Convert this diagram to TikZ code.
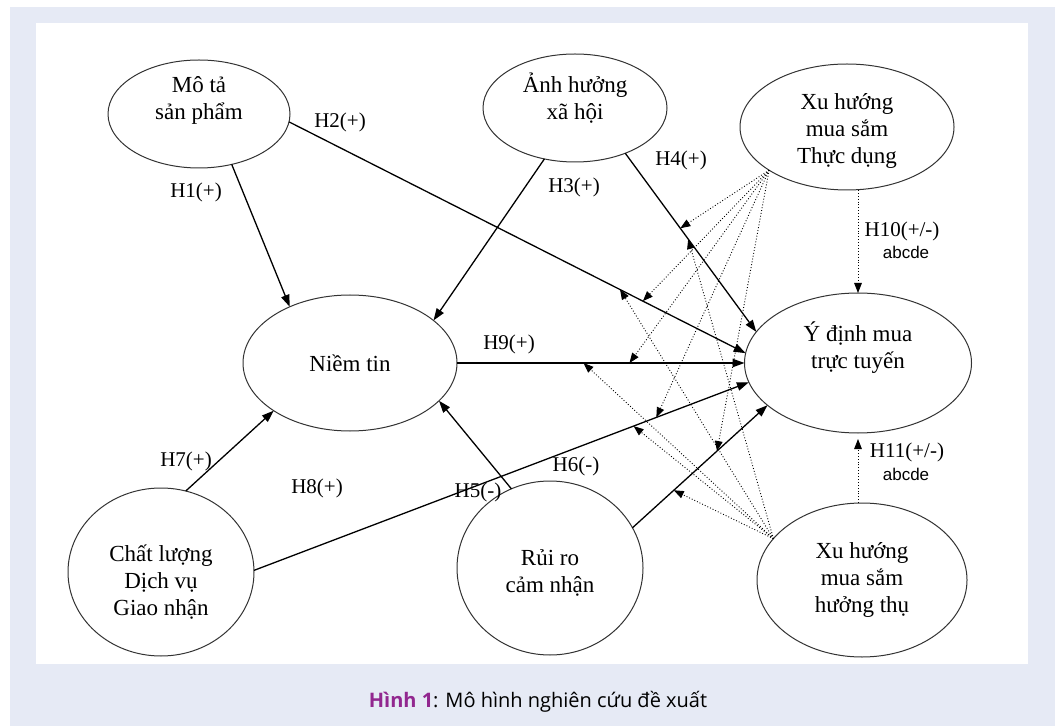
\documentclass[tikz,border=0pt]{standalone}
\usepackage{fontspec}
\setmainfont{Liberation Serif}
\newfontfamily\capfont{Open Sans}
\newfontfamily\abcfont{Liberation Sans}
\usetikzlibrary{shapes.geometric,arrows.meta}
\definecolor{panelbg}{RGB}{230,234,245}
\definecolor{figpurple}{RGB}{146,39,143}

\begin{document}
\begin{tikzpicture}[x=0.5pt,y=-0.5pt,
  oval/.style={draw=black!80,line width=0.5pt,ellipse,inner sep=0pt,outer sep=0pt},
  txt/.style={align=center,font=\fontsize{11.5}{13.5}\selectfont},
  hyp/.style={line width=0.65pt,-{Triangle[length=6pt,width=4.2pt]}},
  mod/.style={densely dotted,line width=0.45pt,-{Triangle[length=5pt,width=3.8pt]}},
  lbl/.style={font=\fontsize{10.5}{12}\selectfont},
  sublbl/.style={font=\abcfont\fontsize{8.5}{10}\selectfont}]

% Panel
\fill[white] (0,0) rectangle (1058,726);
\fill[panelbg] (10,7) rectangle (1055,726);
\fill[white] (36,23) rectangle (1028,664);
\useasboundingbox (0,0) rectangle (1058,726);

% Constructs
\node[oval,minimum width=91pt,minimum height=54pt] (mota) at (199,114) {};
\node[txt] (mota-t) at ([yshift=7pt]mota.center) {Mô tả\\sản phẩm};
\node[oval,minimum width=92pt,minimum height=54pt] (xahoi) at (575,108) {};
\node[txt] (xahoi-t) at ([yshift=5pt]xahoi.center) {Ảnh hưởng\\xã hội};
\node[oval,minimum width=107pt,minimum height=63pt] (thucdung) at (847,127) {};
\node[txt] (thucdung-t) at ([yshift=-2pt]thucdung.center) {Xu hướng\\mua sắm\\Thực dụng};
\node[oval,minimum width=107pt,minimum height=68pt] (niemtin) at (350,363) {};
\node[txt] (niemtin-t) at (niemtin.center) {Niềm tin};
\node[oval,minimum width=113.5pt,minimum height=70pt] (ydinh) at (858,363) {};
\node[txt] (ydinh-t) at ([yshift=7.5pt]ydinh.center) {Ý định mua\\trực tuyến};
\node[oval,minimum width=93pt,minimum height=84pt] (chatluong) at (161,572) {};
\node[txt] (chatluong-t) at ([yshift=-5pt]chatluong.center) {Chất lượng\\Dịch vụ\\Giao nhận};
\node[oval,minimum width=93pt,minimum height=87pt] (ruiro) at (550,568) {};
\node[txt] (ruiro-t) at ([yshift=-2.5pt]ruiro.center) {Rủi ro\\cảm nhận};
\node[oval,minimum width=105pt,minimum height=77pt] (huongthu) at (862,580) {};
\node[txt] (huongthu-t) at (huongthu.center) {Xu hướng\\mua sắm\\hưởng thụ};

% Hypotheses
\draw[hyp] (mota.-57) -- (niemtin.137);
\draw[hyp] (mota.-5) -- coordinate[pos=0.725] (h2h) coordinate[pos=0.775] (h2t) (ydinh.175);
\draw[hyp] (xahoi.-121) -- (niemtin.27);
\draw[hyp] (xahoi.-42) -- coordinate[pos=0.42] (h4t) coordinate[pos=0.48] (h4h) (ydinh.163);
\draw[hyp] (niemtin.east) -- coordinate[pos=0.44] (h9h) coordinate[pos=0.6] (h9t) (ydinh.west);
\draw[hyp] (ruiro.116) -- (niemtin.-23);
\draw[hyp] (ruiro.26) -- coordinate[pos=0.306] (h6h) coordinate[pos=0.626] (h6t) (ydinh.-155);
\draw[hyp] (chatluong.73) -- (niemtin.-148);
\draw[hyp] (chatluong.1) -- coordinate[pos=0.767] (h8h) coordinate[pos=0.813] (h8t) (ydinh.-170);

% Moderators
\draw[mod] (ydinh.north |- thucdung.south) -- (ydinh.north);
\draw[mod,shorten >=3pt] (ydinh.south |- huongthu.north) -- (ydinh.south);
\draw[mod] (thucdung.-151) -- (h4t);
\draw[mod] (thucdung.-151) -- (h2t);
\draw[mod] (thucdung.-151) -- (h9t);
\draw[mod] (thucdung.-151) -- (h8t);
\draw[mod] (thucdung.-151) -- (h6t);
\draw[mod] (huongthu.155) -- (h4h);
\draw[mod] (huongthu.155) -- (h2h);
\draw[mod] (huongthu.155) -- (h9h);
\draw[mod] (huongthu.155) -- (h8h);
\draw[mod] (huongthu.155) -- (h6h);

% Labels
\node[lbl] (l1) at (196,192) {H1(+)};
\node[lbl] (l2) at (340,122) {H2(+)};
\node[lbl] (l3) at (574,187) {H3(+)};
\node[lbl] (l4) at (681,160) {H4(+)};
\node[lbl] (l9) at (509,344) {H9(+)};
\node[lbl] (l7) at (186,461) {H7(+)};
\node[lbl] (l8) at (317,488) {H8(+)};
\node[lbl] (l5) at (478,492) {H5(-)};
\node[lbl] (l6) at (576,466) {H6(-)};
\node[lbl] (l10) at (902,231) {H10(+/-)};
\node[sublbl] (l10s) at (906,252) {abcde};
\node[lbl] (l11) at (907,452) {H11(+/-)};
\node[sublbl] (l11s) at (906,474) {abcde};

% Caption
\node[font=\capfont\fontsize{10}{12}\selectfont] (caption) at (538,702)
  {\textcolor{figpurple}{\bfseries Hình 1}: Mô hình nghiên cứu đề xuất};
\end{tikzpicture}
\end{document}
